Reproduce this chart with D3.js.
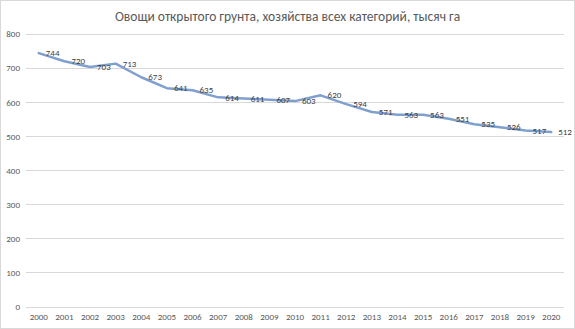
<!DOCTYPE html>
<html>
<head>
<meta charset="utf-8">
<script src="https://cdn.jsdelivr.net/npm/d3@7"></script>
<style>
  html, body { margin: 0; padding: 0; background: #fff; }
  svg { display: block; }
</style>
</head>
<body>
<svg id="chart" width="575" height="329"></svg>
<script>
const years = ["2000","2001","2002","2003","2004","2005","2006","2007","2008","2009","2010",
               "2011","2012","2013","2014","2015","2016","2017","2018","2019","2020"];
const areaValues = [744, 720, 703, 713, 673, 641, 635, 614, 611, 607, 603,
                    620, 594, 571, 563, 563, 551, 535, 526, 517, 512];
const yTicks = [0, 100, 200, 300, 400, 500, 600, 700, 800];
const chartTitle = "Овощи открытого грунта, хозяйства всех категорий, тысяч га";

const W = 575, H = 329;
const margin = { left: 26, right: 11, top: 34, bottom: 22.5 };
const font = "Calibri, Carlito, 'Open Sans', 'Liberation Sans', sans-serif";

const svg = d3.select("#chart");

// outer frame
svg.append("rect")
  .attr("x", 0.5).attr("y", 0.5)
  .attr("width", W - 1).attr("height", H - 1)
  .attr("fill", "#fff").attr("stroke", "#d9d9d9");

const x = d3.scaleBand()
  .domain(years)
  .range([margin.left, W - margin.right]);

const y = d3.scaleLinear()
  .domain([0, 800])
  .range([H - margin.bottom, margin.top]);

// title
svg.append("text")
  .attr("x", W / 2).attr("y", 21)
  .attr("text-anchor", "middle")
  .attr("font-family", font)
  .attr("font-size", 13.5)
  .attr("fill", "#595959")
  .text(chartTitle);

// horizontal gridlines
svg.append("g")
  .selectAll("line")
  .data(yTicks)
  .join("line")
  .attr("x1", margin.left).attr("x2", W - margin.right)
  .attr("y1", d => Math.round(y(d)) + 0.5)
  .attr("y2", d => Math.round(y(d)) + 0.5)
  .attr("stroke", "#d9d9d9").attr("stroke-width", 1);

// y axis labels
const yAxis = d3.axisLeft(y).tickValues(yTicks).tickSize(0).tickPadding(6);
svg.append("g")
  .attr("transform", `translate(${margin.left},0)`)
  .call(yAxis)
  .call(g => g.select(".domain").remove())
  .call(g => g.selectAll("text")
    .attr("font-family", font).attr("font-size", 9).attr("fill", "#595959"));

// x axis labels
const xAxis = d3.axisBottom(x).tickSize(0).tickPadding(7);
svg.append("g")
  .attr("transform", `translate(0,${y(0)})`)
  .call(xAxis)
  .call(g => g.select(".domain").remove())
  .call(g => g.selectAll("text")
    .attr("font-family", font).attr("font-size", 9).attr("fill", "#595959"));

const cx = (d, i) => x(years[i]) + x.bandwidth() / 2;

// series line
const line = d3.line()
  .x((d, i) => cx(d, i))
  .y(d => y(d));

svg.append("path")
  .datum(areaValues)
  .attr("d", line)
  .attr("fill", "none")
  .attr("stroke", "#7f9fcf")
  .attr("stroke-width", 2.5)
  .attr("stroke-linejoin", "round")
  .attr("stroke-linecap", "round");

// data labels to the right of each point
svg.append("g")
  .selectAll("text")
  .data(areaValues)
  .join("text")
  .attr("x", (d, i) => cx(d, i) + 7)
  .attr("y", d => y(d))
  .attr("dy", "0.35em")
  .attr("font-family", font)
  .attr("font-size", 9)
  .attr("fill", "#404040")
  .text(d => d);
</script>
</body>
</html>
